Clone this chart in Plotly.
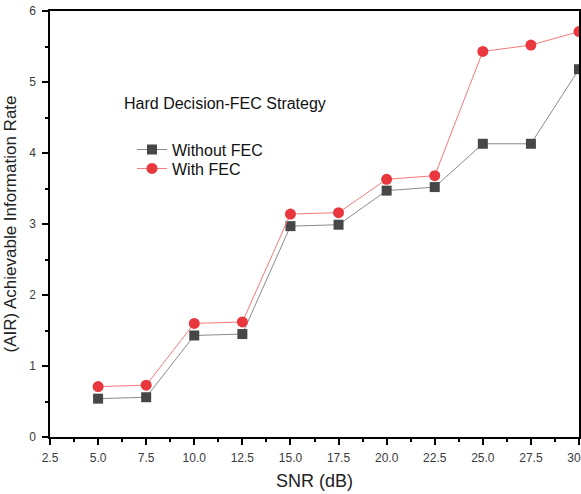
import plotly.graph_objects as go

snr_db = [5.0, 7.5, 10.0, 12.5, 15.0, 17.5, 20.0, 22.5, 25.0, 27.5, 30.0]
air_without_fec = [0.54, 0.56, 1.43, 1.45, 2.97, 2.99, 3.47, 3.52, 4.13, 4.13, 5.18]
air_with_fec = [0.71, 0.73, 1.60, 1.62, 3.14, 3.16, 3.63, 3.68, 5.43, 5.52, 5.71]

fig = go.Figure()
fig.add_trace(go.Scatter(
    x=snr_db, y=air_without_fec, name="Without FEC", mode="lines+markers",
    line=dict(color="#8a8a8a", width=1),
    marker=dict(symbol="square", size=10, color="#474747"),
    cliponaxis=False, legend="legend",
))
fig.add_trace(go.Scatter(
    x=snr_db, y=air_with_fec, name="With FEC", mode="lines+markers",
    line=dict(color="#f47a7a", width=1),
    marker=dict(symbol="circle", size=11, color="#e8373d"),
    cliponaxis=False, legend="legend2",
))

font_family = "Arial, Liberation Sans, sans-serif"
axis_font = dict(family=font_family, size=12, color="#3a3a3a")
fig.update_xaxes(
    range=[2.5, 30], tick0=2.5, dtick=2.5, tickformat=".1f",
    ticks="outside", ticklen=6, tickwidth=1.5, tickcolor="black",
    ticklabeloverflow="allow", automargin=False, ticklabelstandoff=3,
    minor=dict(tick0=2.5, dtick=1.25, ticks="outside", ticklen=3, tickwidth=1.5, tickcolor="black"),
    showline=True, linecolor="black", linewidth=1.5, mirror=True,
    showgrid=False, zeroline=False, tickfont=axis_font,
    title=dict(text="SNR (dB)", font=dict(family=font_family, size=18, color="#222222"), standoff=10),
)
fig.update_yaxes(
    range=[0, 6], dtick=1,
    ticks="outside", ticklen=6, tickwidth=1.5, tickcolor="black",
    automargin=False, ticklabelstandoff=4,
    minor=dict(tick0=0, dtick=0.5, ticks="outside", ticklen=3, tickwidth=1.5, tickcolor="black"),
    showline=True, linecolor="black", linewidth=1.5, mirror=True,
    showgrid=False, zeroline=False, tickfont=axis_font,
    title=dict(text="(AIR) Achievable Information Rate", font=dict(family=font_family, size=17, color="#222222"), standoff=8),
)

fig.add_annotation(
    text="Hard Decision-FEC Strategy", xref="paper", yref="paper",
    x=0.137, y=0.783, xanchor="left", yanchor="middle", showarrow=False,
    font=dict(family=font_family, size=16, color="#111111"),
)

legend_style = dict(
    xanchor="left", yanchor="top",
    bgcolor="rgba(0,0,0,0)", borderwidth=0,
    font=dict(family=font_family, size=16, color="#111111"),
    itemwidth=30,
)

fig.update_layout(
    width=581, height=494,
    margin=dict(l=50, r=2, t=11, b=57),
    plot_bgcolor="white", paper_bgcolor="white",
    showlegend=True,
    legend=dict(x=0.155, y=0.7145, **legend_style),
    legend2=dict(x=0.155, y=0.670, **legend_style),
)

fig.write_html("out.html")
